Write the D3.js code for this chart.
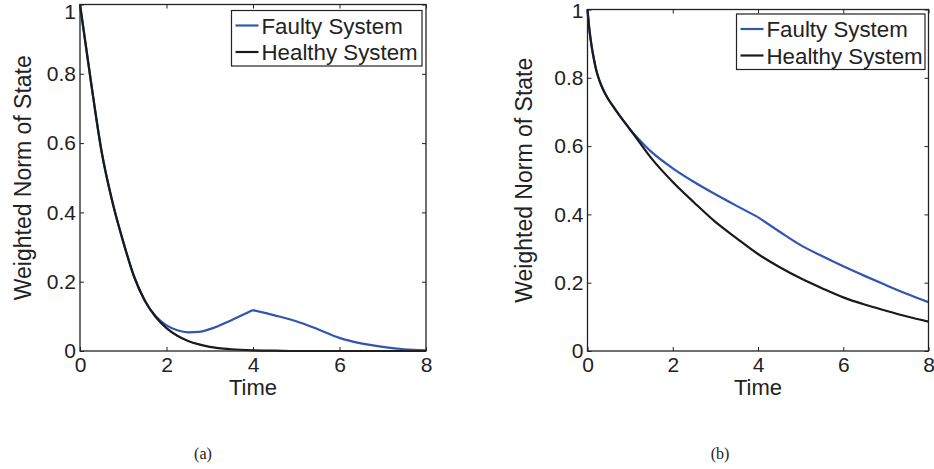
<!DOCTYPE html>
<html>
<head>
<meta charset="utf-8">
<script src="https://cdn.jsdelivr.net/npm/d3@7"></script>
<style>
    body { margin: 0; background: #fff; }
    text { font-family: "Liberation Sans", Arial, sans-serif; fill: #222; }
    .caption { font-family: "Liberation Serif", "Times New Roman", serif; }
    .domain { display: none; }
    .tick line { stroke: #222; }
</style>
</head>
<body>
<svg id="chart" width="934" height="469"></svg>
<script>
// values
var xTicks = [0, 2, 4, 6, 8];
var yTicks = [0, 0.2, 0.4, 0.6, 0.8, 1];
var seriesNames = ["Faulty System", "Healthy System"];
var captions = ["(a)", "(b)"];

var timeA = [0, 0.25, 0.5, 0.75, 1, 1.25, 1.5, 1.75, 2, 2.25, 2.5, 2.75, 3, 3.5, 4, 4.5, 5, 5.5, 6, 6.5, 7, 7.5, 8];
var faultyA = [1, 0.78, 0.575, 0.43, 0.315, 0.215, 0.145, 0.1, 0.074, 0.06, 0.054, 0.055, 0.063, 0.089, 0.118, 0.103, 0.086, 0.063, 0.038, 0.022, 0.012, 0.005, 0.002];
var healthyA = [1, 0.78, 0.575, 0.43, 0.315, 0.215, 0.145, 0.098, 0.066, 0.044, 0.029, 0.019, 0.012, 0.005, 0.002, 0.001, 0, 0, 0, 0, 0, 0, 0];
var kinksA = [4];

var timeB = [0, 0.05, 0.1, 0.15, 0.2, 0.25, 0.3, 0.35, 0.4, 0.5, 0.625, 0.75, 0.9, 1.04, 1.5, 2, 2.5, 3, 3.5, 4, 4.5, 5, 5.5, 6, 6.5, 7, 7.5, 8];
var faultyB = [1, 0.935, 0.89, 0.855, 0.825, 0.803, 0.785, 0.77, 0.757, 0.735, 0.712, 0.69, 0.665, 0.642, 0.583, 0.535, 0.495, 0.459, 0.425, 0.392, 0.35, 0.31, 0.278, 0.248, 0.22, 0.193, 0.167, 0.143];
var healthyB = [1, 0.935, 0.89, 0.855, 0.825, 0.803, 0.785, 0.77, 0.757, 0.735, 0.712, 0.69, 0.665, 0.642, 0.564, 0.495, 0.435, 0.378, 0.33, 0.284, 0.246, 0.213, 0.184, 0.157, 0.136, 0.118, 0.101, 0.086];
var kinksB = [1.04, 4];

var colors = ["#3055b2", "#1a1a1a"];

var CHART = {
    svg: d3.select("#chart"),

    // split a series at the kink times so the curve keeps its corners there
    segments: function (time, values, kinks) {
        var segs = [[]];
        time.forEach(function (t, i) {
            var p = {t: t, v: values[i]};
            segs[segs.length - 1].push(p);
            if (kinks.indexOf(t) !== -1 && i > 0 && i < time.length - 1) {
                segs.push([p]);
            }
        });
        return segs;
    },

    drawPanel: function (box, time, series, kinks, caption) {
        var svg = this.svg;
        var that = this;

        var x = d3.scaleLinear().domain([0, 8]).range([box.left, box.right]);
        var y = d3.scaleLinear().domain([0, 1]).range([box.bottom, box.top]);

        var g = svg.append("g");

        var line = d3.line()
            .x(function (d) { return x(d.t); })
            .y(function (d) { return y(d.v); })
            .curve(d3.curveMonotoneX);

        series.forEach(function (values, i) {
            var k = i === 0 ? kinks : [];
            g.append("g")
                .selectAll("path")
                .data(that.segments(time, values, k))
                .enter()
                .append("path")
                .attr("d", line)
                .attr("fill", "none")
                .attr("stroke", colors[i])
                .attr("stroke-width", 2.2)
                .attr("stroke-linejoin", "round");
        });

        // axes, ticks pointing inward on all four sides
        g.append("g")
            .attr("transform", "translate(0," + box.bottom + ")")
            .call(d3.axisBottom(x).tickValues(xTicks).tickSizeInner(-4).tickSizeOuter(0).tickPadding(6))
            .selectAll("text").style("font-size", "21px");

        g.append("g")
            .attr("transform", "translate(0," + box.top + ")")
            .call(d3.axisTop(x).tickValues(xTicks).tickSizeInner(-4).tickSizeOuter(0).tickFormat(""));

        var yAxis = g.append("g")
            .attr("transform", "translate(" + box.left + ",0)")
            .call(d3.axisLeft(y).tickValues(yTicks).tickSizeInner(-4).tickSizeOuter(0).tickPadding(4)
                .tickFormat(function (d) { return String(d); }));
        yAxis.selectAll("text").style("font-size", "21px");
        // keep the top label inside the page
        yAxis.selectAll(".tick text")
            .filter(function (d) { return d === 1; })
            .attr("y", box.topLabelShift);

        g.append("g")
            .attr("transform", "translate(" + box.right + ",0)")
            .call(d3.axisRight(y).tickValues(yTicks).tickSizeInner(-4).tickSizeOuter(0).tickFormat(""));

        g.selectAll(".tick text").attr("fill", "#222");

        g.append("rect")
            .attr("x", box.left)
            .attr("y", box.top)
            .attr("width", box.right - box.left)
            .attr("height", box.bottom - box.top)
            .attr("fill", "none")
            .attr("stroke", "#222")
            .attr("stroke-width", 1.3);

        g.append("text")
            .attr("x", (box.left + box.right) / 2)
            .attr("y", box.bottom + 44)
            .attr("text-anchor", "middle")
            .style("font-size", "22px")
            .text("Time");

        g.append("text")
            .attr("transform", "translate(" + box.ylabel + "," + (box.top + box.bottom) / 2 + ") rotate(-90)")
            .attr("text-anchor", "middle")
            .style("font-size", "23px")
            .text("Weighted Norm of State");

        this.drawLegend(g, box.legend);

        svg.append("text")
            .attr("class", "caption")
            .attr("x", box.caption)
            .attr("y", 459)
            .attr("text-anchor", "middle")
            .style("font-size", "16px")
            .text(caption);
    },

    drawLegend: function (g, lg) {
        var legend = g.append("g").attr("transform", "translate(" + lg.x + "," + lg.y + ")");

        legend.append("rect")
            .attr("width", lg.w)
            .attr("height", lg.h)
            .attr("fill", "#fff")
            .attr("stroke", "#222")
            .attr("stroke-width", 1.2);

        var rows = legend.selectAll("g.row")
            .data(seriesNames)
            .enter()
            .append("g")
            .attr("class", "row")
            .attr("transform", function (d, i) { return "translate(0," + (15 + i * 26.5) + ")"; });

        rows.append("line")
            .attr("x1", 4).attr("x2", 27)
            .attr("stroke", function (d, i) { return colors[i]; })
            .attr("stroke-width", 2.2);

        rows.append("text")
            .attr("x", 30)
            .attr("dy", "0.36em")
            .style("font-size", "22.3px")
            .text(function (d) { return d; });
    }
};

CHART.drawPanel(
    {left: 80, right: 426, top: 4.5, bottom: 351, ylabel: 31, caption: 203, topLabelShift: 7,
        legend: {x: 231.5, y: 10.5, w: 190.5, h: 55.5}},
    timeA, [faultyA, healthyA], kinksA, captions[0]);

CHART.drawPanel(
    {left: 587.5, right: 928.5, top: 9.5, bottom: 351, ylabel: 532, caption: 720, topLabelShift: 1,
        legend: {x: 736.5, y: 14, w: 188.5, h: 55.5}},
    timeB, [faultyB, healthyB], kinksB, captions[1]);
</script>
</body>
</html>
